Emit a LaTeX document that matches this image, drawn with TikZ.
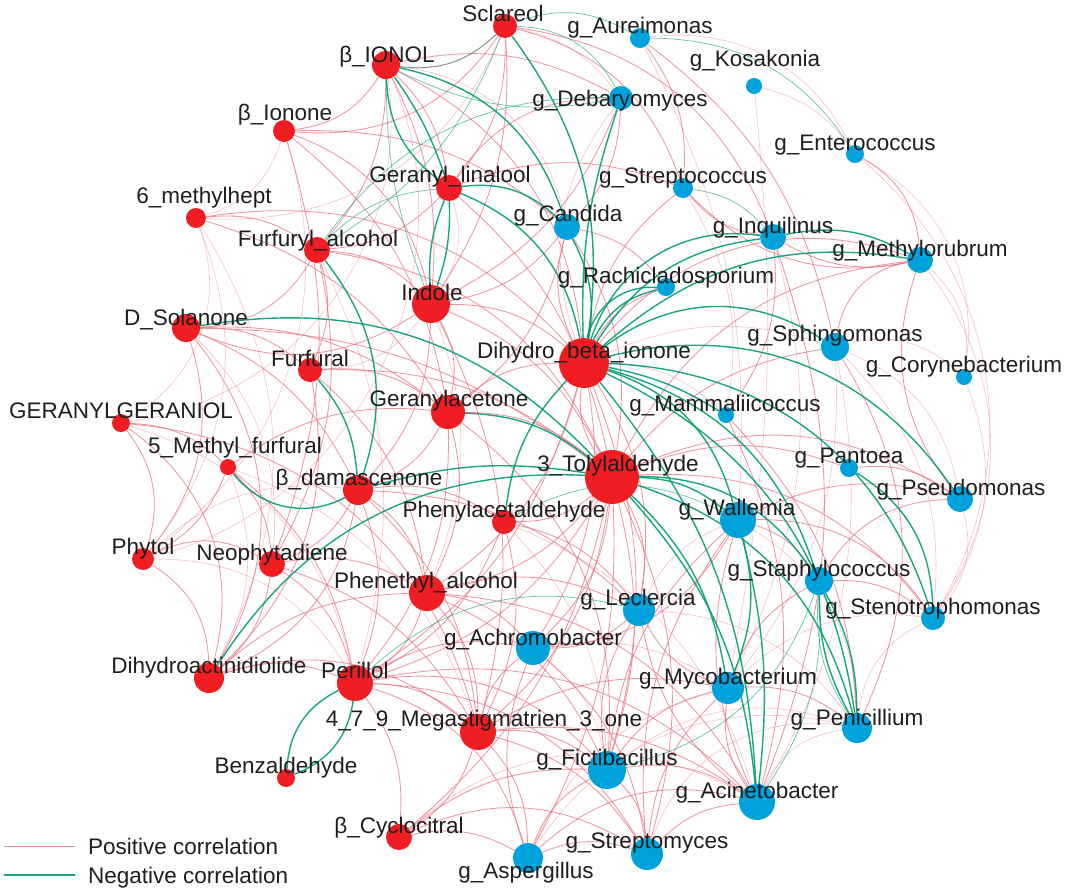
\documentclass[tikz,border=0pt]{standalone}
\usepackage{fontspec}
\setmainfont{Liberation Sans}
\pgfdeclarelayer{bg}
\pgfsetlayers{bg,main}
\definecolor{nred}{RGB}{240,30,35}
\definecolor{nblue}{RGB}{0,162,219}
\definecolor{epink}{RGB}{232,115,127}
\definecolor{egreen}{RGB}{0,155,115}
\definecolor{txt}{RGB}{30,30,30}
\tikzset{
 rn/.style={circle,fill=nred,inner sep=0pt,minimum size=#1},
 bn/.style={circle,fill=nblue,inner sep=0pt,minimum size=#1},
 lab/.style={anchor=base,inner sep=0pt,text=txt,font=\fontsize{22.5}{27}\selectfont},
 legtxt/.style={anchor=base west,inner sep=0pt,text=txt,font=\fontsize{22.5}{27}\selectfont},
 poscor/.style={draw=epink,line width=0.85pt,opacity=0.75},
 poslite/.style={draw=epink,line width=0.6pt,opacity=0.45},
 negcor/.style={draw=egreen,line width=1.4pt,opacity=0.9},
 neglite/.style={draw=egreen,line width=0.7pt,opacity=0.6},
}
\begin{document}
\begin{tikzpicture}[x=1pt,y=-1pt]
\useasboundingbox (0,0) rectangle (1065,892);
% red nodes
\node[rn=24] (scl) at (505,26) {};
\node[rn=28] (ionol) at (386,65) {};
\node[rn=22] (iono) at (284,131) {};
\node[rn=26] (gerl) at (449,188) {};
\node[rn=20] (mhept) at (196,218) {};
\node[rn=26] (furol) at (317,250) {};
\node[rn=38] (indo) at (431,304) {};
\node[rn=28] (dsol) at (186,328) {};
\node[rn=24] (furf) at (310,370) {};
\node[rn=50] (dbi) at (584,363) {};
\node[rn=34] (gacet) at (448,412) {};
\node[rn=18] (ggol) at (121,423) {};
\node[rn=16] (mfurf) at (228,467) {};
\node[rn=30] (bdam) at (358,490) {};
\node[rn=54] (tol) at (612,477) {};
\node[rn=24] (phac) at (504,522) {};
\node[rn=22] (phyt) at (143,559) {};
\node[rn=26] (neo) at (272,564) {};
\node[rn=36] (phal) at (427,593) {};
\node[rn=30] (dact) at (209,678) {};
\node[rn=36] (peri) at (355,683) {};
\node[rn=36] (meg) at (478,732) {};
\node[rn=18] (benz) at (286,778) {};
\node[rn=26] (bcyc) at (399,837) {};
% blue nodes
\node[bn=20] (aur) at (640,38) {};
\node[bn=16] (kos) at (754,86) {};
\node[bn=24] (deb) at (621,98) {};
\node[bn=18] (ent) at (855,154) {};
\node[bn=20] (strc) at (683,188) {};
\node[bn=26] (cand) at (567,227) {};
\node[bn=26] (inq) at (773,237) {};
\node[bn=26] (meth) at (920,260) {};
\node[bn=18] (rach) at (666,287) {};
\node[bn=28] (sph) at (835,347) {};
\node[bn=16] (cory) at (964,377) {};
\node[bn=16] (mam) at (726,415) {};
\node[bn=18] (pant) at (849,468) {};
\node[bn=26] (pseu) at (960,499) {};
\node[bn=36] (wall) at (738,520) {};
\node[bn=28] (stap) at (819,581) {};
\node[bn=24] (sten) at (933,618) {};
\node[bn=32] (lec) at (639,610) {};
\node[bn=34] (ach) at (533,648) {};
\node[bn=32] (myco) at (728,688) {};
\node[bn=30] (peni) at (857,728) {};
\node[bn=38] (fict) at (607,770) {};
\node[bn=36] (acin) at (757,802) {};
\node[bn=32] (strm) at (647,854) {};
\node[bn=30] (asp) at (528,858) {};
% legend coordinates
\coordinate (lpa) at (4,846); \coordinate (lpb) at (75,846);
\coordinate (lna) at (4,875); \coordinate (lnb) at (75,875);
\begin{pgfonlayer}{bg}
% positive edges
\foreach \a/\b/\c in {
scl/ionol/25, scl/gerl/20, scl/indo/18, scl/strc/28, scl/inq/30, scl/iono/30,
ionol/iono/25, ionol/gerl/18, ionol/dbi/28, ionol/deb/20, ionol/indo/15, ionol/furol/20,
iono/indo/28, iono/neo/18, iono/cand/20, iono/gacet/20,
mhept/furol/20, mhept/gacet/20, mhept/dbi/28,
gerl/deb/28, gerl/strc/20, gerl/furol/20, gerl/tol/18,
furol/indo/20, furol/furf/20, furol/dsol/28, furol/tol/28, furol/neo/20,
indo/dsol/28, indo/tol/20, indo/dbi/20, indo/gacet/20, indo/meg/20, indo/bdam/20,
dsol/gacet/20, dsol/tol/18, dsol/dact/35, dsol/phyt/28, dsol/bdam/20, dsol/furf/20,
furf/gacet/20, furf/tol/20, furf/phal/20, furf/dact/28,
ggol/phyt/28, ggol/mfurf/20, ggol/meg/35, ggol/dact/35,
mfurf/phyt/20, mfurf/neo/20, mfurf/peri/20, mfurf/gacet/20,
gacet/dbi/20, gacet/tol/20, gacet/peri/20, gacet/phal/20, gacet/bdam/20, gacet/fict/28,
bdam/peri/20, bdam/phal/20, bdam/dact/28, bdam/meg/20, bdam/phac/20, bdam/neo/20, bdam/lec/20,
tol/dbi/20, tol/phac/20, tol/phal/20, tol/peri/20, tol/meg/20, tol/fict/15, tol/strm/20,
tol/asp/15, tol/ach/20, tol/lec/20, tol/pseu/28, tol/sten/28, tol/pant/20, tol/sph/20, tol/meth/28, tol/bcyc/18,
dbi/rach/20, dbi/strc/20, dbi/meth/35, dbi/cand/20, dbi/fict/18, dbi/lec/20, dbi/ach/20, dbi/phal/20, dbi/peri/20,
phac/peri/20, phac/lec/20, phac/meg/20,
phyt/dact/28, phyt/neo/28,
neo/peri/20, neo/dact/20, neo/meg/20, neo/phal/20,
phal/peri/20, phal/meg/20, phal/ach/20, phal/fict/20, phal/lec/20, phal/acin/28,
dact/peri/20, dact/meg/28, dact/phal/20,
peri/meg/20, peri/bcyc/20, peri/fict/28, peri/ach/20, peri/asp/28, peri/strm/28, peri/acin/28,
meg/bcyc/20, meg/fict/20, meg/asp/20, meg/strm/20, meg/ach/20, meg/acin/20, meg/myco/20,
bcyc/asp/20, bcyc/fict/20, bcyc/strm/28,
asp/fict/20, asp/strm/20, asp/ach/20, asp/acin/28,
fict/strm/20, fict/acin/20, fict/myco/20, fict/lec/20, fict/wall/20,
strm/acin/20, strm/myco/20, strm/wall/20,
acin/myco/20, acin/wall/20, acin/lec/20,
myco/peni/20, myco/lec/20, myco/stap/20,
wall/sten/28, wall/pseu/20, wall/stap/20, wall/ach/28,
stap/pseu/28, stap/sten/20,
pseu/meth/28, pant/pseu/20,
sph/meth/35, sph/peni/28,
meth/inq/20, meth/strc/28,
inq/strc/20, inq/mam/20, inq/acin/20,
aur/strc/20, aur/sph/20,
deb/cand/20, deb/indo/20, ent/meth/28,
cand/rach/20, cand/indo/20, cand/tol/20, cand/gacet/20,
mam/peni/20, mam/acin/20, lec/ach/20, ach/strm/20}
 \draw[poscor] (\a) to[bend left=\c] (\b);
\foreach \a/\b/\c in {
ionol/phyt/50, ionol/ggol/45, iono/phyt/35, mhept/ggol/40, mhept/phyt/30, mhept/dact/30, iono/mhept/28,
ggol/peri/30, phyt/peri/30, phyt/bdam/25, mfurf/dact/25, mfurf/meg/25, dsol/neo/25, furol/peri/20,
fict/peni/28, strm/peni/40, acin/peni/28, asp/peni/35, asp/myco/25, bcyc/acin/35,
wall/peni/28, peni/sten/28, pseu/sten/28, sph/cory/28, meth/cory/28, aur/ent/35,
ent/sten/40, ent/cory/35, cory/sten/28, sph/pseu/28, kos/myco/8, kos/ent/20, dbi/deb/28, dbi/sph/20, dbi/mam/20,
meth/sten/35, sph/sten/25, sph/acin/20, sph/myco/20, aur/wall/15, strc/mam/20, inq/myco/20,
scl/mhept/35, scl/deb/20, ionol/cand/35, gerl/indo/25, indo/furf/25, indo/phal/20,
phac/fict/20, phac/acin/25, lec/wall/20, lec/peni/25, ach/fict/20, ach/myco/20, myco/sten/25}
 \draw[poslite] (\a) to[bend left=\c] (\b);
% negative edges
\foreach \a/\b/\c in {
ionol/gerl/-25, ionol/gerl/8, gerl/indo/10, gerl/indo/-12, ionol/cand/30, scl/dbi/22, gerl/cand/25,
gerl/dbi/28, furol/bdam/28, furf/bdam/18, bdam/mfurf/40, bdam/tol/12, dact/tol/30, dsol/tol/28,
gacet/tol/18, phac/dbi/18, peri/benz/-30, peri/benz/30,
dbi/rach/25, dbi/rach/40, dbi/inq/25, dbi/inq/40, dbi/meth/25, dbi/sph/35, dbi/pseu/35,
dbi/mam/10, dbi/wall/28, dbi/stap/28, dbi/sten/35, dbi/peni/28, dbi/acin/18, dbi/cand/-18, dbi/deb/10,
tol/wall/18, tol/stap/28, tol/myco/18, tol/acin/18, tol/peni/28,
wall/myco/18, wall/acin/10, stap/peni/14, stap/peni/-14, pant/sten/28, inq/meth/20}
 \draw[negcor] (\a) to[bend left=\c] (\b);
\foreach \a/\b/\c in {
ionol/indo/-10, scl/aur/25, scl/deb/30, scl/ionol/25, scl/furol/18, furol/deb/28, furol/gerl/20, peri/lec/28,
strc/inq/20, aur/ent/28, stap/acin/18, stap/fict/28, peni/stap/18, phac/wall/28, ionol/deb/-18}
 \draw[neglite] (\a) to[bend left=\c] (\b);
\end{pgfonlayer}
\draw[poslite,opacity=0.8,line width=1pt] (lpa) -- (lpb);
\draw[negcor,line width=1.6pt] (lna) -- (lnb);
% labels
\node[lab] (scl-l) at (503,21) {Sclareol};
\node[lab] (ionol-l) at (387,62) {β\_IONOL};
\node[lab] (iono-l) at (285,120) {β\_Ionone};
\node[lab] (gerl-l) at (450,182) {Geranyl\_linalool};
\node[lab] (mhept-l) at (204,203) {6\_methylhept};
\node[lab] (furol-l) at (318,246) {Furfuryl\_alcohol};
\node[lab] (indo-l) at (432,300) {Indole};
\node[lab] (dsol-l) at (186,325) {D\_Solanone};
\node[lab] (furf-l) at (310,366) {Furfural};
\node[lab] (dbi-l) at (584,358) {Dihydro\_beta\_ionone};
\node[lab] (gacet-l) at (449,406) {Geranylacetone};
\node[lab] (ggol-l) at (121,418) {GERANYLGERANIOL};
\node[lab] (mfurf-l) at (235,453) {5\_Methyl\_furfural};
\node[lab] (bdam-l) at (359,485) {β\_damascenone};
\node[lab] (tol-l) at (618,471) {3\_Tolylaldehyde};
\node[lab] (phac-l) at (504,517) {Phenylacetaldehyde};
\node[lab] (phyt-l) at (143,554) {Phytol};
\node[lab] (neo-l) at (272,560) {Neophytadiene};
\node[lab] (phal-l) at (426,588) {Phenethyl\_alcohol};
\node[lab] (dact-l) at (209,673) {Dihydroactinidiolide};
\node[lab] (peri-l) at (355,678) {Perillol};
\node[lab] (meg-l) at (484,726) {4\_7\_9\_Megastigmatrien\_3\_one};
\node[lab] (benz-l) at (286,773) {Benzaldehyde};
\node[lab] (bcyc-l) at (399,833) {β\_Cyclocitral};
\node[lab] (aur-l) at (640,33) {g\_Aureimonas};
\node[lab] (kos-l) at (755,66) {g\_Kosakonia};
\node[lab] (deb-l) at (620,106) {g\_Debaryomyces};
\node[lab] (ent-l) at (855,150) {g\_Enterococcus};
\node[lab] (strc-l) at (683,183) {g\_Streptococcus};
\node[lab] (cand-l) at (568,221) {g\_Candida};
\node[lab] (inq-l) at (773,233) {g\_Inquilinus};
\node[lab] (meth-l) at (920,256) {g\_Methylorubrum};
\node[lab] (rach-l) at (666,283) {g\_Rachicladosporium};
\node[lab] (sph-l) at (835,341) {g\_Sphingomonas};
\node[lab] (cory-l) at (964,372) {g\_Corynebacterium};
\node[lab] (mam-l) at (725,411) {g\_Mammaliicoccus};
\node[lab] (pant-l) at (849,463) {g\_Pantoea};
\node[lab] (pseu-l) at (961,495) {g\_Pseudomonas};
\node[lab] (wall-l) at (737,515) {g\_Wallemia};
\node[lab] (stap-l) at (819,576) {g\_Staphylococcus};
\node[lab] (sten-l) at (933,614) {g\_Stenotrophomonas};
\node[lab] (lec-l) at (638,605) {g\_Leclercia};
\node[lab] (ach-l) at (533,645) {g\_Achromobacter};
\node[lab] (myco-l) at (728,684) {g\_Mycobacterium};
\node[lab] (peni-l) at (857,725) {g\_Penicillium};
\node[lab] (fict-l) at (607,765) {g\_Fictibacillus};
\node[lab] (acin-l) at (757,798) {g\_Acinetobacter};
\node[lab] (strm-l) at (647,848) {g\_Streptomyces};
\node[lab] (asp-l) at (526,878) {g\_Aspergillus};
\node[legtxt] (lp-l) at (88,854) {Positive correlation};
\node[legtxt] (ln-l) at (88,883) {Negative correlation};
\end{tikzpicture}
\end{document}
